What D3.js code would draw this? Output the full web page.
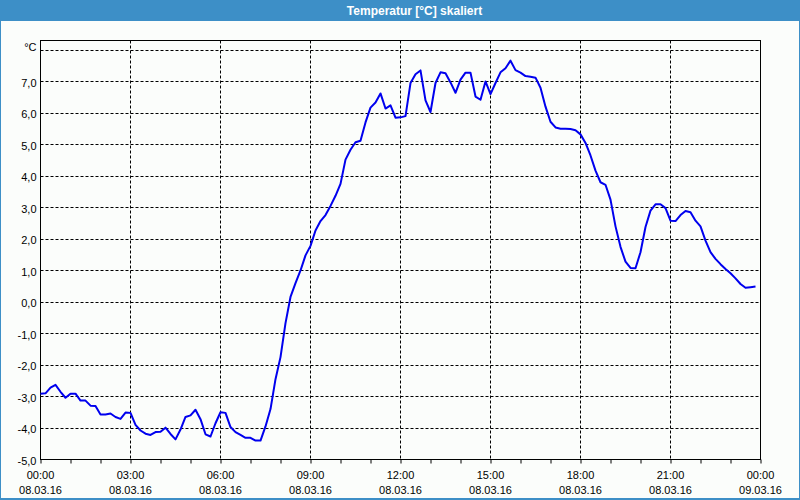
<!DOCTYPE html>
<html>
<head>
<meta charset="utf-8">
<script src="https://cdn.jsdelivr.net/npm/d3@7/dist/d3.min.js"></script>
<style>
  html, body { margin: 0; padding: 0; background: #ffffff; }
  svg { display: block; }
  text { font-family: "Liberation Sans", Arial, sans-serif; }
</style>
</head>
<body>
<svg id="chart" width="800" height="500"></svg>
<script>
// ---- data ----
const chartTitle = "Temperatur [°C] skaliert";
const unitLabel = "°C";
const startTime = "2016-03-08T00:00:00";
const stepMinutes = 10;
const temperatures = [
  -2.91,-2.90,-2.72,-2.63,-2.85,-3.04,-2.91,-2.91,-3.13,-3.13,
  -3.29,-3.30,-3.57,-3.57,-3.54,-3.65,-3.71,-3.51,-3.52,-3.90,
  -4.08,-4.18,-4.22,-4.13,-4.12,-3.99,-4.19,-4.36,-4.05,-3.65,
  -3.60,-3.42,-3.72,-4.20,-4.27,-3.85,-3.50,-3.52,-3.97,-4.13,
  -4.22,-4.31,-4.31,-4.40,-4.40,-3.95,-3.40,-2.45,-1.75,-0.67,
   0.16, 0.60, 1.00, 1.48, 1.78, 2.27, 2.57, 2.76, 3.05, 3.37,
   3.75, 4.52, 4.83, 5.07, 5.12, 5.70, 6.17, 6.33, 6.62, 6.14,
   6.24, 5.85, 5.86, 5.90, 6.95, 7.23, 7.35, 6.40, 6.03, 6.95,
   7.29, 7.26, 6.97, 6.64, 7.06, 7.28, 7.28, 6.52, 6.42, 7.00,
   6.60, 6.95, 7.29, 7.42, 7.66, 7.36, 7.28, 7.17, 7.15, 7.12,
   6.80, 6.20, 5.72, 5.54, 5.50, 5.50, 5.49, 5.45, 5.32, 5.05,
   4.65, 4.17, 3.80, 3.72, 3.25, 2.40, 1.75, 1.28, 1.08, 1.07,
   1.58, 2.38, 2.90, 3.10, 3.10, 2.98, 2.58, 2.57, 2.76, 2.89,
   2.85, 2.58, 2.40, 1.95, 1.58, 1.37, 1.20, 1.05, 0.91, 0.75,
   0.57, 0.45, 0.47, 0.49
];
const yTicks = [-5,-4,-3,-2,-1,0,1,2,3,4,5,6,7,8];
const xTimeLabels = ["00:00","03:00","06:00","09:00","12:00","15:00","18:00","21:00","00:00"];
const xDateLabels = ["08.03.16","08.03.16","08.03.16","08.03.16","08.03.16","08.03.16","08.03.16","08.03.16","09.03.16"];

// ---- layout ----
const svg = d3.select("#chart");
const W = 800, H = 500;
const L = 40.5, R = 760.5, T = 40.5, B = 459.5;

const t0 = new Date(startTime);
const t1 = d3.timeDay.offset(t0, 1);
const points = temperatures.map((v, i) => ({ t: d3.timeMinute.offset(t0, i * stepMinutes), v }));

const x = d3.scaleTime().domain([t0, t1]).range([L, R]);
const y = d3.scaleLinear().domain([-5, 8.3]).range([B, T]);

// background / frame
svg.append("rect").attr("x", 0).attr("y", 0).attr("width", W).attr("height", H).attr("fill", "#3d8fc7");
svg.append("rect").attr("x", 1).attr("y", 21).attr("width", W - 2).attr("height", H - 23).attr("fill", "#fbfdfb");

// title
svg.append("text")
  .attr("x", 414.5).attr("y", 15)
  .attr("text-anchor", "middle")
  .attr("fill", "#ffffff")
  .attr("font-size", 12).attr("font-weight", "bold")
  .text(chartTitle);

// grid
const grid = svg.append("g").attr("stroke", "#000").attr("stroke-width", 1).attr("stroke-dasharray", "3,2").attr("fill", "none");
yTicks.filter(v => v > -5).forEach(v => {
  const yy = Math.round(y(v)) + 0.5;
  grid.append("line").attr("x1", L).attr("x2", R).attr("y1", yy).attr("y2", yy);
});
const xTickDates = d3.timeHour.every(3).range(t0, d3.timeMinute.offset(t1, 1));
xTickDates.slice(1, -1).forEach(d => {
  const xx = Math.round(x(d) - 0.5) + 0.5;
  grid.append("line").attr("x1", xx).attr("x2", xx).attr("y1", T).attr("y2", B);
});

// y labels via axis
const yAxis = d3.axisLeft(y).tickValues(yTicks).tickSize(0).tickPadding(4)
  .tickFormat(v => v === 8 ? unitLabel : d3.format(".1f")(v).replace(".", ",").replace("−", "-"));
const yg = svg.append("g").attr("transform", `translate(${L},0)`).call(yAxis);
yg.select(".domain").remove();
yg.selectAll("text").attr("font-size", 11).attr("fill", "#000")
  .attr("font-family", "Liberation Sans, Arial, sans-serif")
  .attr("dy", (d) => d === 8 ? "0.05em" : "0.42em");

// x axis hourly ticks
const xAxis = d3.axisBottom(x).ticks(d3.timeHour.every(1)).tickSize(4).tickFormat("");
const xg = svg.append("g").attr("transform", `translate(0,${B})`).call(xAxis);
xg.select(".domain").remove();
xg.selectAll("line").attr("stroke", "#000");

// x labels
const xl = svg.append("g").attr("font-size", 11).attr("fill", "#000").attr("text-anchor", "middle");
xTickDates.forEach((d, i) => {
  xl.append("text").attr("x", x(d)).attr("y", 479).text(xTimeLabels[i]);
  xl.append("text").attr("x", x(d)).attr("y", 494).text(xDateLabels[i]);
});

// plot border
svg.append("rect").attr("x", L).attr("y", T).attr("width", R - L).attr("height", B - T)
  .attr("fill", "none").attr("stroke", "#000").attr("stroke-width", 1);

// line
const line = d3.line().x(d => x(d.t)).y(d => y(d.v));
svg.append("path").datum(points)
  .attr("d", line)
  .attr("fill", "none")
  .attr("stroke", "#0000ee")
  .attr("stroke-width", 2)
  .attr("stroke-linejoin", "round");
</script>
</body>
</html>
